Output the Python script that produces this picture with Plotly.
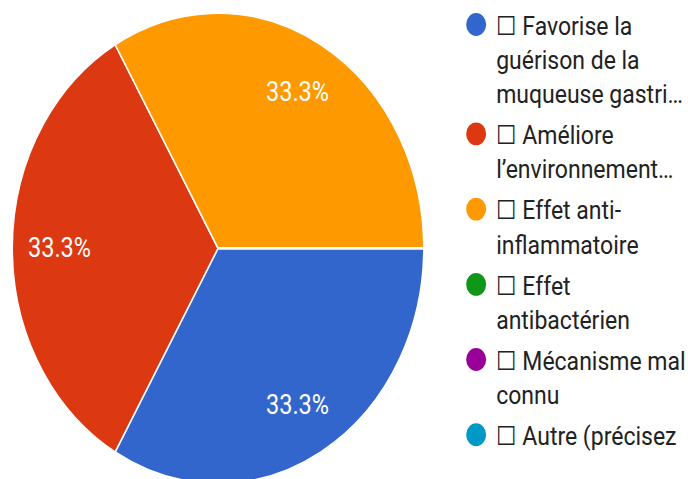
import math
import plotly.graph_objects as go

# Survey answers (checkbox options) and their response counts
labels = [
    "☐ Favorise la<br>guérison de la<br>muqueuse gastri…",
    "☐ Améliore<br>l’environnement…",
    "☐ Effet anti-<br>inflammatoire",
    "☐ Effet<br>antibactérien",
    "☐ Mécanisme mal<br>connu",
    "☐ Autre (précisez",
]
counts = [1, 1, 1, 0, 0, 0]
colors = ["#3366CC", "#DC3912", "#FF9900", "#109618", "#990099", "#0099C6"]

W, H = 688, 424
STRETCH = 1.143  # vertical stretch applied to the rendered chart

dom_x = [0.0175, 0.6163]
dom_y = [0.0024, 0.9729]
START_DEG = 0.0  # first slice starts at 3 o'clock, going clockwise
LABEL_R = 0.77   # radial position of the percentage labels

fig = go.Figure()
fig.add_trace(go.Pie(
    labels=labels,
    values=counts,
    sort=False,
    direction="clockwise",
    rotation=90 - START_DEG,
    marker=dict(colors=colors, line=dict(color="white", width=1.5)),
    textinfo="none",
    showlegend=False,
    hoverinfo="label+percent",
    domain=dict(x=dom_x, y=dom_y),
))

# Percentage labels placed at the middle angle of each non-empty slice
cx_px = (dom_x[0] + dom_x[1]) / 2 * W
cy_px = (dom_y[0] + dom_y[1]) / 2 * H
r_px = min((dom_x[1] - dom_x[0]) * W, (dom_y[1] - dom_y[0]) * H) / 2
total = sum(counts)
acc = 0.0
for v in counts:
    if v > 0:
        mid = START_DEG - (acc + v / 2) / total * 360.0
        px = cx_px + LABEL_R * r_px * math.cos(math.radians(mid))
        py = cy_px + LABEL_R * r_px * math.sin(math.radians(mid))
        fig.add_annotation(
            x=px / W, y=py / H, xref="paper", yref="paper",
            xanchor="center", yanchor="middle",
            text=f"{v / total:.1%}", showarrow=False,
            font=dict(family="Roboto", size=23.5, color="white"),
        )
    acc += v

# Legend entries with round swatches, one per answer option
for i, (lab, col) in enumerate(zip(labels, colors)):
    fig.add_trace(go.Scatter(
        x=[None], y=[None], mode="markers", name=lab,
        legendgroup=f"g{i}",
        marker=dict(symbol="circle", size=16, color=col,
                    line=dict(color=col, width=4)),
    ))

fig.update_layout(
    width=W, height=H,
    margin=dict(l=0, r=0, t=0, b=0, autoexpand=False),
    paper_bgcolor="white", plot_bgcolor="white",
    xaxis=dict(visible=False), yaxis=dict(visible=False),
    font=dict(family="Roboto", color="#222222"),
    legend=dict(
        x=0.663, y=1.0, xanchor="left", yanchor="top",
        font=dict(family="Roboto", size=23, color="#222222"),
        bgcolor="rgba(0,0,0,0)",
        itemsizing="trace",
        valign="top",
        tracegroupgap=3,
    ),
)

post = (
    "var gd=document.getElementById('{plot_id}');"
    "document.body.style.margin='0';"
    "gd.style.transformOrigin='0 0';"
    "gd.style.transform='scale(1,%s)';" % STRETCH
)
fig.write_html("out.html", post_script=post)
